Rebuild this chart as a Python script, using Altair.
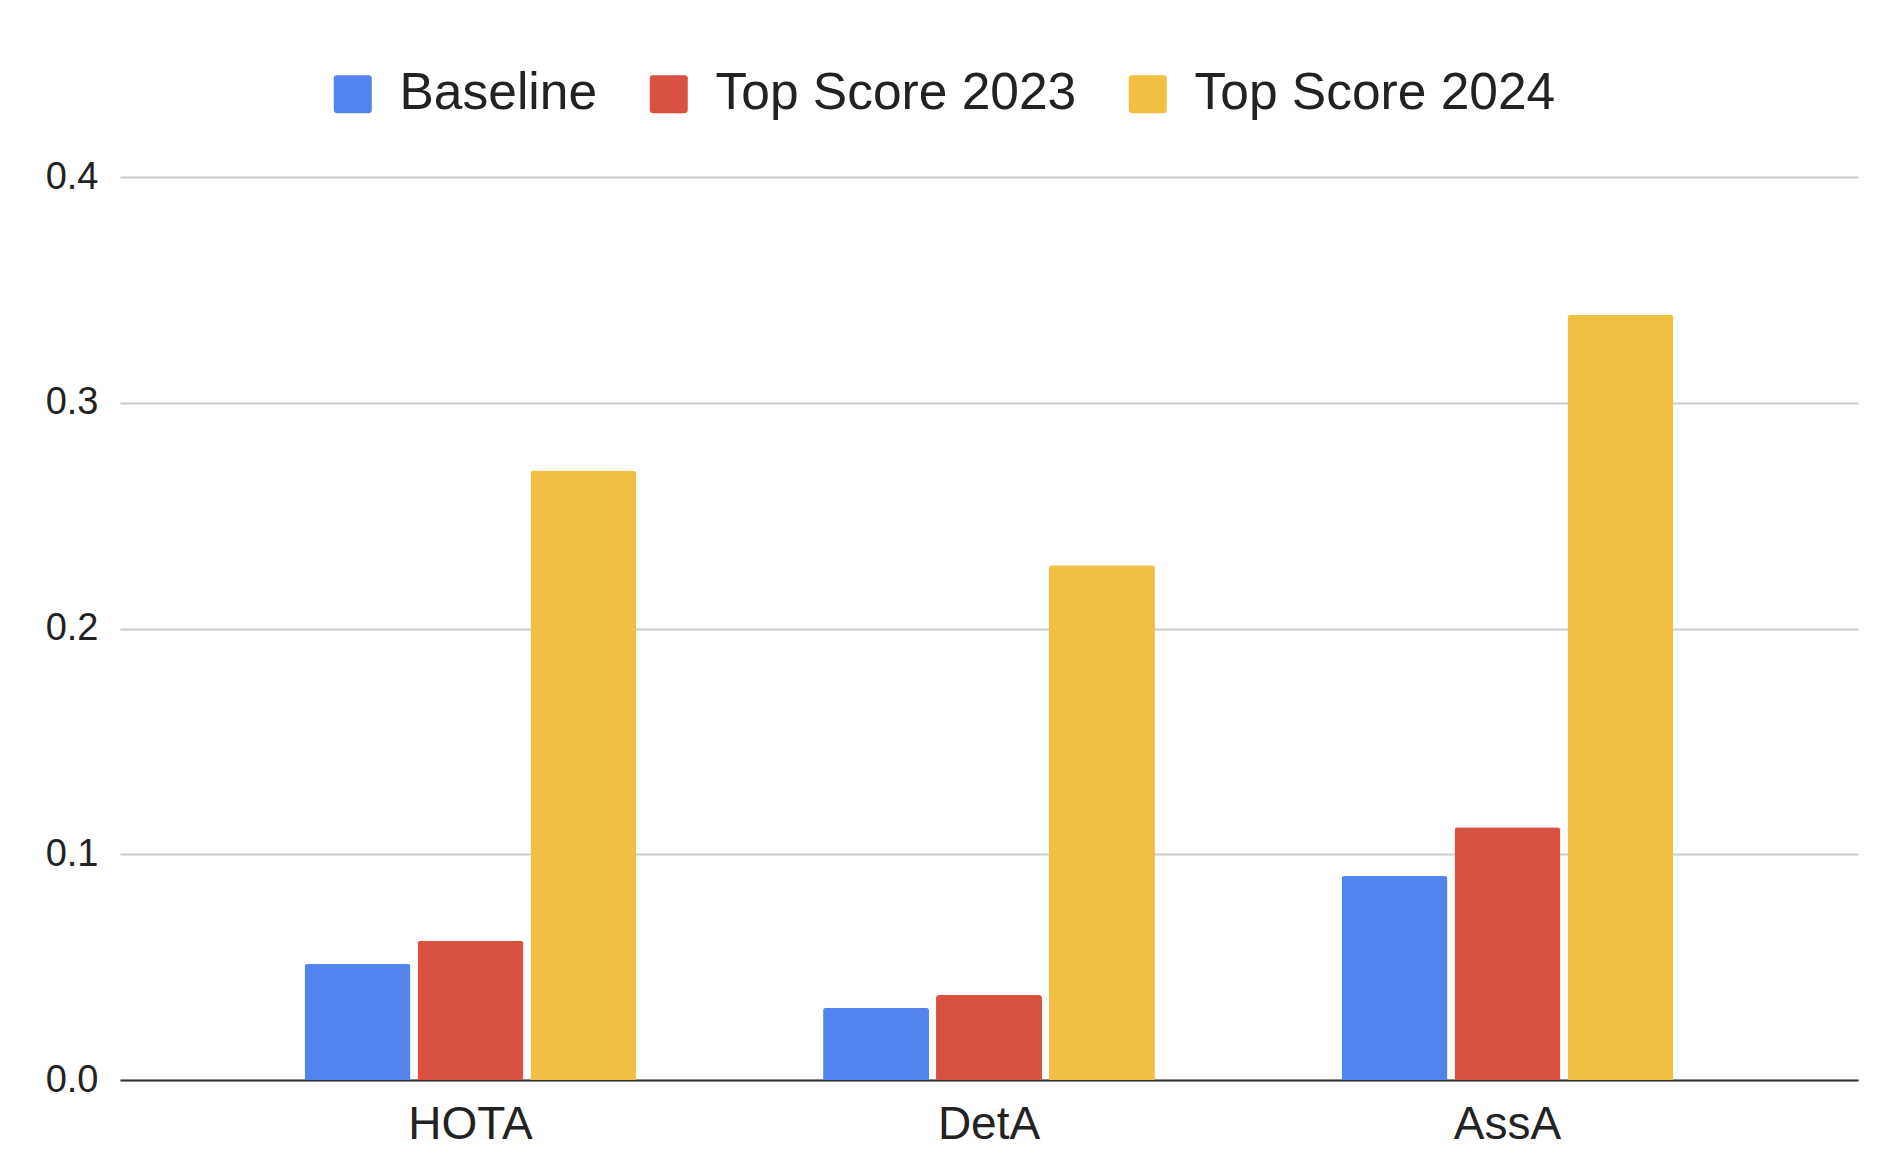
import altair as alt
import pandas as pd

categories = ["HOTA", "DetA", "AssA"]
series = ["Baseline", "Top Score 2023", "Top Score 2024"]
baseline = [0.0515, 0.032, 0.0905]
top2023 = [0.0617, 0.0376, 0.112]
top2024 = [0.270, 0.228, 0.339]
colors = ["#5383EC", "#D95141", "#F1BF42"]

rows = []
for i, c in enumerate(categories):
    for s, vals in zip(series, [baseline, top2023, top2024]):
        rows.append({"category": c, "series": s, "value": vals[i]})
df = pd.DataFrame(rows)

rounded_square = ("M-0.84,-1 L0.84,-1 Q1,-1 1,-0.84 L1,0.84 Q1,1 0.84,1 "
                  "L-0.84,1 Q-1,1 -1,0.84 L-1,-0.84 Q-1,-1 -0.84,-1 Z")

chart = alt.Chart(df).mark_bar(
    cornerRadiusTopLeft=3, cornerRadiusTopRight=3
).encode(
    x=alt.X("category:N", sort=categories,
            scale=alt.Scale(paddingInner=0.36, paddingOuter=0.356),
            axis=alt.Axis(title=None, labelAngle=0, labelFontSize=46,
                          labelFont="Liberation Sans", labelColor="#222222",
                          ticks=False, tickSize=0, labelPadding=22,
                          domainColor="#333333", domainWidth=2, grid=False)),
    xOffset=alt.XOffset("series:N", sort=series,
                        scale=alt.Scale(paddingInner=0.062, paddingOuter=0)),
    y=alt.Y("value:Q", scale=alt.Scale(domain=[0, 0.4], nice=False),
            axis=alt.Axis(title=None, values=[0, 0.1, 0.2, 0.3, 0.4], format=".1f",
                          labelFontSize=38, labelFont="Liberation Sans",
                          labelColor="#222222", ticks=False, tickSize=0,
                          labelPadding=22, domain=False, grid=True,
                          gridColor="#CCCCCC", gridWidth=2)),
    color=alt.Color("series:N", sort=series,
                    scale=alt.Scale(domain=series, range=colors),
                    legend=alt.Legend(title=None, orient="none", direction="horizontal",
                                      legendX=207, legendY=-109, padding=0,
                                      labelFontSize=51.5, labelFont="Liberation Sans",
                                      labelColor="#222222", labelOffset=21,
                                      labelLimit=1000,
                                      columnPadding=45, symbolType=rounded_square,
                                      symbolSize=1444, symbolStrokeWidth=0,
                                      symbolOpacity=1)),
).properties(
    width=1738, height=903,
    padding={"left": 112, "top": 169, "right": 20, "bottom": 86},
    autosize=alt.AutoSizeParams(type="none"),
).configure_view(stroke=None)

chart.save("out.html", embed_options={"renderer": "svg", "actions": False})
